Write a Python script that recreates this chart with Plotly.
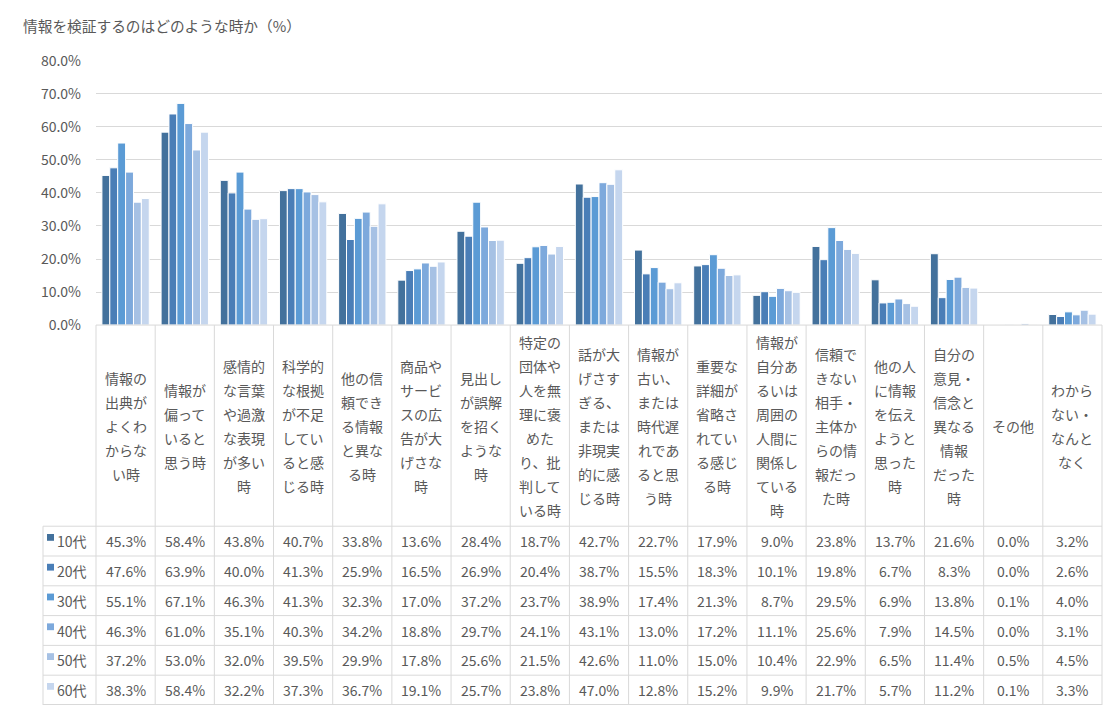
import plotly.graph_objects as go

# ---------------- data ----------------
categories = [
    "情報の<br>出典が<br>よくわ<br>からな<br>い時",
    "情報が<br>偏って<br>いると<br>思う時",
    "感情的<br>な言葉<br>や過激<br>な表現<br>が多い<br>時",
    "科学的<br>な根拠<br>が不足<br>してい<br>ると感<br>じる時",
    "他の信<br>頼でき<br>る情報<br>と異な<br>る時",
    "商品や<br>サービ<br>スの広<br>告が大<br>げさな<br>時",
    "見出し<br>が誤解<br>を招く<br>ような<br>時",
    "特定の<br>団体や<br>人を無<br>理に褒<br>めた<br>り、批<br>判して<br>いる時",
    "話が大<br>げさす<br>ぎる、<br>または<br>非現実<br>的に感<br>じる時",
    "情報が<br>古い、<br>または<br>時代遅<br>れであ<br>ると思<br>う時",
    "重要な<br>詳細が<br>省略さ<br>れてい<br>る感じ<br>る時",
    "情報が<br>自分あ<br>るいは<br>周囲の<br>人間に<br>関係し<br>ている<br>時",
    "信頼で<br>きない<br>相手・<br>主体か<br>らの情<br>報だっ<br>た時",
    "他の人<br>に情報<br>を伝え<br>ようと<br>思った<br>時",
    "自分の<br>意見・<br>信念と<br>異なる<br>情報<br>だった<br>時",
    "その他",
    "わから<br>ない・<br>なんと<br>なく",
]

series_names = ["10代", "20代", "30代", "40代", "50代", "60代"]

v10 = [45.3, 58.4, 43.8, 40.7, 33.8, 13.6, 28.4, 18.7, 42.7, 22.7, 17.9, 9.0, 23.8, 13.7, 21.6, 0.0, 3.2]
v20 = [47.6, 63.9, 40.0, 41.3, 25.9, 16.5, 26.9, 20.4, 38.7, 15.5, 18.3, 10.1, 19.8, 6.7, 8.3, 0.0, 2.6]
v30 = [55.1, 67.1, 46.3, 41.3, 32.3, 17.0, 37.2, 23.7, 38.9, 17.4, 21.3, 8.7, 29.5, 6.9, 13.8, 0.1, 4.0]
v40 = [46.3, 61.0, 35.1, 40.3, 34.2, 18.8, 29.7, 24.1, 43.1, 13.0, 17.2, 11.1, 25.6, 7.9, 14.5, 0.0, 3.1]
v50 = [37.2, 53.0, 32.0, 39.5, 29.9, 17.8, 25.6, 21.5, 42.6, 11.0, 15.0, 10.4, 22.9, 6.5, 11.4, 0.5, 4.5]
v60 = [38.3, 58.4, 32.2, 37.3, 36.7, 19.1, 25.7, 23.8, 47.0, 12.8, 15.2, 9.9, 21.7, 5.7, 11.2, 0.1, 3.3]
series_values = [v10, v20, v30, v40, v50, v60]

title_text = "情報を検証するのはどのような時か（%）"

# ---------------- style ----------------
colors = ["#43719C", "#4A7EB7", "#5B9BD5", "#7DA9DC", "#A6C1E4", "#C5D6EE"]
FONT = "Noto Sans CJK JP"
TXT = "#595959"
GRID = "#D9D9D9"

OFF = 8                      # page body margin of the browser
SCREEN_W, SCREEN_H = 1112, 714
W, H = SCREEN_W - OFF, SCREEN_H - OFF
PLOT_L, PLOT_R = 96, 1102     # screen px of plot area
ML, MR = PLOT_L - OFF, W - (PLOT_R - OFF)
PLOT_W = PLOT_R - PLOT_L
Y0_PX, Y80_PX = 323, 51       # screen rows of 0% and 80%
HEAD_BOTTOM = 530             # bottom of category-label row
ROW_H = (SCREEN_H - HEAD_BOTTOM) / 6
LEG_LEFT = 43


def py(px):
    return 1 - (px - OFF) / H


def pxx(px):
    return (px - PLOT_L) / PLOT_W


ncat = len(categories)
xkeys = [f"c{i}" for i in range(ncat)]

fig = go.Figure()
for name, vals, col in zip(series_names, series_values, colors):
    fig.add_trace(go.Bar(
        x=xkeys, y=vals, name=name,
        marker=dict(color=col, line=dict(color="white", width=1)),
        hoverinfo="skip",
    ))

shapes = []
annotations = []

# title
annotations.append(dict(
    x=pxx(21), y=py(15), xref="paper", yref="paper", xanchor="left", yanchor="middle",
    text=title_text, showarrow=False, font=dict(family=FONT, size=14.7, color=TXT),
))

line = dict(color=GRID, width=1)
# table horizontal lines
shapes.append(dict(type="line", xref="paper", yref="paper", x0=0, x1=1,
                   y0=py(Y0_PX), y1=py(Y0_PX), line=line))
for k in range(7):
    yy = HEAD_BOTTOM + k * ROW_H
    if k == 6:
        yy = SCREEN_H - 0.5
    shapes.append(dict(type="line", xref="paper", yref="paper", x0=pxx(LEG_LEFT), x1=1,
                       y0=py(yy), y1=py(yy), line=line))
# table vertical lines
for i in range(ncat + 1):
    shapes.append(dict(type="line", xref="paper", yref="paper", x0=i / ncat, x1=i / ncat,
                       y0=py(Y0_PX), y1=0, line=line))
shapes.append(dict(type="line", xref="paper", yref="paper", x0=pxx(LEG_LEFT), x1=pxx(LEG_LEFT),
                   y0=py(HEAD_BOTTOM), y1=0, line=line))

# category labels (one annotation per line to mimic Excel line spacing)
LINE_SP = 24.7
head_center = (Y0_PX + HEAD_BOTTOM) / 2
for i, lab in enumerate(categories):
    parts = lab.split("<br>")
    n = len(parts)
    for j, p in enumerate(parts):
        yc = head_center + (j - (n - 1) / 2) * LINE_SP
        annotations.append(dict(
            x=(i + 0.5) / ncat, y=py(yc), xref="paper", yref="paper",
            xanchor="center", yanchor="middle", text=p, showarrow=False,
            font=dict(family=FONT, size=14, color=TXT),
        ))

# data rows
for r, (name, vals, col) in enumerate(zip(series_names, series_values, colors)):
    top = HEAD_BOTTOM + r * ROW_H
    yc = top + ROW_H / 2
    shapes.append(dict(type="rect", xref="paper", yref="paper",
                       x0=pxx(47), x1=pxx(54), y0=py(top + 8), y1=py(top + 15),
                       fillcolor=col, line=dict(width=0)))
    annotations.append(dict(
        x=pxx(55), y=py(yc), xref="paper", yref="paper", xanchor="left", yanchor="middle",
        text=name, showarrow=False, font=dict(family=FONT, size=14, color=TXT),
    ))
    for i, v in enumerate(vals):
        annotations.append(dict(
            x=(i + 0.5) / ncat, y=py(yc), xref="paper", yref="paper",
            xanchor="center", yanchor="middle", text=f"{v:.1f}%", showarrow=False,
            font=dict(family=FONT, size=14, color=TXT),
        ))

fig.update_layout(
    width=W, height=H,
    margin=dict(l=ML, r=MR, t=0, b=0, pad=0),
    paper_bgcolor="white", plot_bgcolor="white",
    barmode="group", bargap=0.2, bargroupgap=0,
    showlegend=False,
    font=dict(family=FONT, color=TXT),
    xaxis=dict(type="category", range=[-0.5, ncat - 0.5], showticklabels=False,
               showgrid=False, zeroline=False, showline=False, fixedrange=True),
    yaxis=dict(domain=[py(Y0_PX), py(Y80_PX)], range=[0, 80], dtick=10,
               tickformat=".1f", ticksuffix="%", showgrid=True, gridcolor=GRID, gridwidth=1,
               zeroline=False, showline=False, ticks="", ticklabelstandoff=14,
               tickfont=dict(family=FONT, size=14, color=TXT), fixedrange=True),
    shapes=shapes,
    annotations=annotations,
)

fig.write_html("out.html")
